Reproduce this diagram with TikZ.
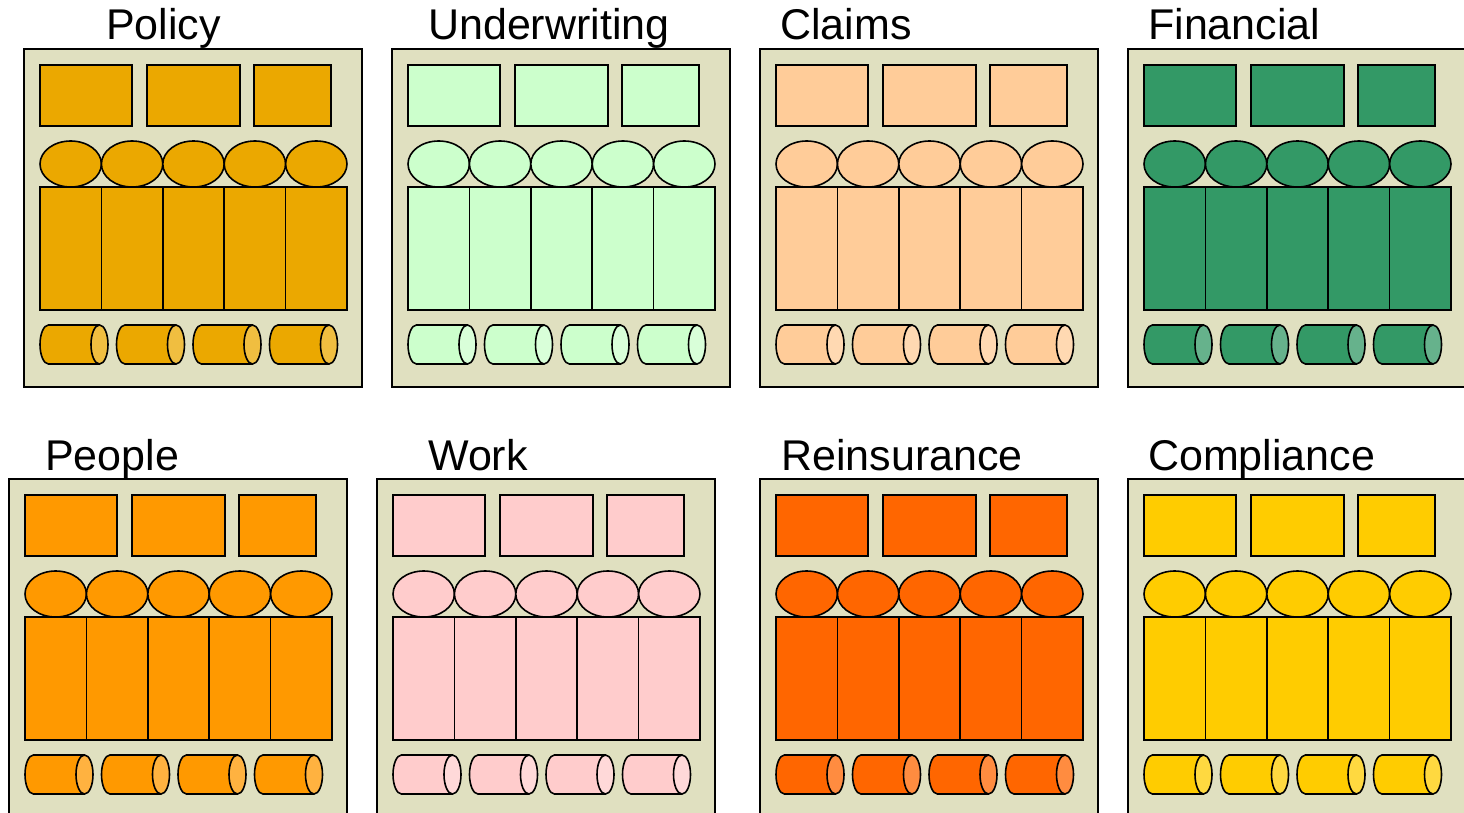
\documentclass[tikz,border=0pt]{standalone}
\usepackage{fontspec}
\setmainfont{Liberation Sans}
\definecolor{panelbg}{HTML}{E0E0C0}
\definecolor{cPolicy}{HTML}{EBA800}
\definecolor{cUnder}{HTML}{CCFFCC}
\definecolor{cClaims}{HTML}{FFCC99}
\definecolor{cFin}{HTML}{339966}
\definecolor{cPeople}{HTML}{FF9900}
\definecolor{cWork}{HTML}{FFCCCC}
\definecolor{cReins}{HTML}{FF6600}
\definecolor{cComp}{HTML}{FFCC00}
\tikzset{
  panelbox/.style={fill=panelbg,draw=black,line width=1.8pt},
  partbox/.style={draw=black,line width=1.6pt},
  titletext/.style={anchor=base west,inner sep=0pt,font=\fontsize{43}{43}\selectfont}
}
\newcommand\drawpanel[6]{% x, y, colour, title, title dx, name
  \begin{scope}[shift={(#1,#2)}]
    \draw[panelbox] (0,0) rectangle (338,338);
    \node[titletext] (#6-title) at (#5,-9) {#4};
    \draw[partbox,fill=#3] (16,16) rectangle (108,77);
    \draw[partbox,fill=#3] (123,16) rectangle (216,77);
    \draw[partbox,fill=#3] (230,16) rectangle (307,77);
    \foreach \k in {0,...,4}{
      \pgfmathsetmacro\xa{16+61.4*\k}
      \pgfmathsetmacro\xb{16+61.4*(\k+1)}
      \pgfmathsetmacro\xc{16+61.4*(\k+0.5)}
      \draw[partbox,fill=#3] (\xa,138) rectangle (\xb,261);
      \draw[partbox,fill=#3] (\xc,115) ellipse[x radius=30.7,y radius=23];
    }
    \foreach \k in {0,...,3}{
      \pgfmathsetmacro\xa{16+76.5*\k+8.5}
      \pgfmathsetmacro\xb{16+76.5*\k+68-8.5}
      \fill[#3] (\xb,276) -- (\xa,276) arc[start angle=270,end angle=90,x radius=8.5,y radius=19.5] -- (\xb,315) -- cycle;
      \draw[partbox] (\xb,276) -- (\xa,276) arc[start angle=270,end angle=90,x radius=8.5,y radius=19.5] -- (\xb,315);
      \draw[partbox,fill=#3!75!white] (\xb,295.5) ellipse[x radius=8.5,y radius=19.5];
    }
  \end{scope}
}
\begin{document}
\begin{tikzpicture}[x=1pt,y=-1pt]
  \useasboundingbox (0,0) rectangle (1464,813);
  \clip (0,0) rectangle (1464,813);
  \drawpanel{24}{49}{cPolicy}{Policy}{82}{policy}
  \drawpanel{392}{49}{cUnder}{Underwriting}{36}{under}
  \drawpanel{760}{49}{cClaims}{Claims}{20}{claims}
  \drawpanel{1128}{49}{cFin}{Financial}{20}{fin}
  \drawpanel{9}{479}{cPeople}{People}{36}{people}
  \drawpanel{377}{479}{cWork}{Work}{51}{work}
  \drawpanel{760}{479}{cReins}{Reinsurance}{21}{reins}
  \drawpanel{1128}{479}{cComp}{Compliance}{20}{comp}
\end{tikzpicture}
\end{document}
